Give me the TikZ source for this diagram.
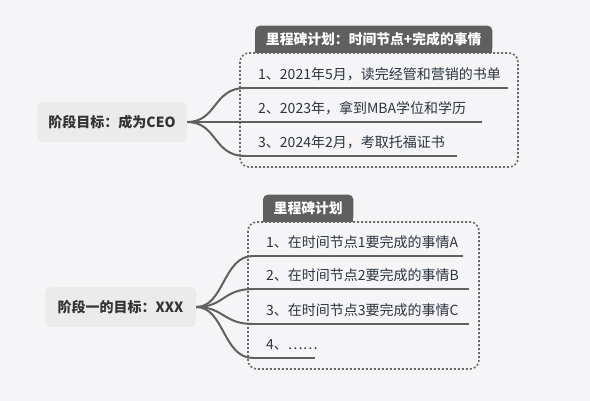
\documentclass[tikz,border=0pt]{standalone}
\usepackage{fontspec}
\setmainfont{Noto Sans CJK SC}
\usetikzlibrary{backgrounds}
\definecolor{pagebg}{HTML}{F5F5F7}
\definecolor{rootfill}{HTML}{EBEBEB}
\definecolor{roottext}{HTML}{333333}
\definecolor{tabfill}{HTML}{5F5F5F}
\definecolor{itemcol}{HTML}{2C3440}
\definecolor{linecol}{HTML}{606060}
\definecolor{dotcol}{HTML}{6A6A6A}
\tikzset{
  rootbox/.style={fill=rootfill, rounded corners=6pt, text=roottext,
    font=\bfseries\fontsize{14}{16}\selectfont, inner sep=0pt, minimum height=40pt},
  tabtext/.style={text=white, font=\bfseries\fontsize{13.8}{16}\selectfont,
    inner sep=0pt, minimum height=27pt, anchor=south west},
  itemtext/.style={text=itemcol, font=\fontsize{14}{16}\selectfont, inner sep=0pt, anchor=west},
  branch/.style={draw=linecol, line width=2pt},
  underline/.style={draw=linecol, line width=2pt},
  dotbox/.style={draw=dotcol, line width=1.6pt, dash pattern=on 2pt off 2pt, rounded corners=9pt},
  tabshape/.style={fill=tabfill},
}
\begin{document}
\begin{tikzpicture}[x=1pt,y=-1pt]
\useasboundingbox (0,0) rectangle (590,401);

% ---------- top group ----------
\node[rootbox, minimum width=150pt] (r1) at (112,122) {阶段目标：成为CEO};
\node[tabtext, minimum width=237pt] (tA) at (255,53) {里程碑计划：时间节点+完成的事情};
\coordinate (a1s) at (245,88);  \coordinate (a1e) at (508,88);
\coordinate (a2s) at (245,122); \coordinate (a2e) at (482,122);
\coordinate (a3s) at (245,156); \coordinate (a3e) at (457,156);
\node[itemtext] (a1) at (258,74.5) {1、2021年5月，读完经管和营销的书单};
\node[itemtext] (a2) at (258,108.5) {2、2023年，拿到MBA学位和学历};
\node[itemtext] (a3) at (258,142.5) {3、2024年2月，考取托福证书};

% ---------- bottom group ----------
\node[rootbox, minimum width=151pt] (r2) at (120.5,307) {阶段一的目标：XXX};
\node[tabtext, minimum width=90pt] (tB) at (263,222) {里程碑计划};
\coordinate (b1s) at (253,256); \coordinate (b1e) at (463,256);
\coordinate (b2s) at (253,289); \coordinate (b2e) at (469,289);
\coordinate (b3s) at (253,324); \coordinate (b3e) at (469,324);
\coordinate (b4s) at (253,358); \coordinate (b4e) at (315,358);
\node[itemtext] (b1) at (266,242.5) {1、在时间节点1要完成的事情A};
\node[itemtext] (b2) at (266,275.5) {2、在时间节点2要完成的事情B};
\node[itemtext] (b3) at (266,310.5) {3、在时间节点3要完成的事情C};
\node[itemtext] (b4) at (266,344.5) {4、……};

\begin{scope}[on background layer]
  \fill[pagebg] (0,0) rectangle (590,401);
  \draw[dotbox] (240,53) rectangle (518,167);
  \draw[dotbox] (248,222) rectangle (479,369);
  \fill[tabshape, rounded corners=5pt] (tA.south west) rectangle (tA.north east);
  \fill[tabshape] ([yshift=6pt]tA.south west) rectangle (tA.south east);
  \fill[tabshape, rounded corners=5pt] (tB.south west) rectangle (tB.north east);
  \fill[tabshape] ([yshift=6pt]tB.south west) rectangle (tB.south east);
\end{scope}

% connectors
\foreach \i in {1,2,3}{
  \draw[branch] (r1.east) .. controls +(30,0) and +(-32,0) .. (a\i s);
  \draw[underline] (a\i s) -- (a\i e);
}
\foreach \i in {1,2,3,4}{
  \draw[branch] (r2.east) .. controls +(28,0) and +(-30,0) .. (b\i s);
  \draw[underline] (b\i s) -- (b\i e);
}
\end{tikzpicture}
\end{document}
